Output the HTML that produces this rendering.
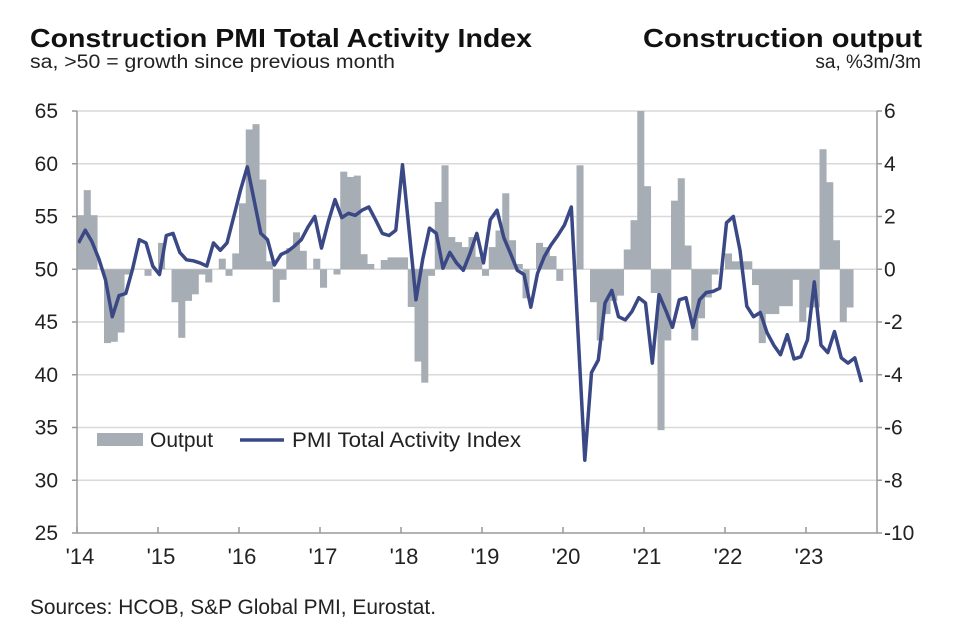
<!DOCTYPE html>
<html><head><meta charset="utf-8">
<style>
body{margin:0;background:#fff;font-family:"Liberation Sans",Arial,sans-serif;}
svg text{font-family:"Liberation Sans",Arial,sans-serif;}
</style></head>
<body>
<svg id="chart" width="956" height="632" viewBox="0 0 956 632" xmlns="http://www.w3.org/2000/svg">
<text x="30" y="47" font-size="26" font-weight="bold" fill="#111" textLength="502" lengthAdjust="spacingAndGlyphs">Construction PMI Total Activity Index</text>
<text x="30" y="68" font-size="19" fill="#222" textLength="365" lengthAdjust="spacingAndGlyphs">sa, &gt;50 = growth since previous month</text>
<text x="922" y="47" font-size="26" font-weight="bold" fill="#111" text-anchor="end" textLength="279" lengthAdjust="spacingAndGlyphs">Construction output</text>
<text x="921" y="68" font-size="19" fill="#222" text-anchor="end">sa, %3m/3m</text>
<g id="grid"></g>
<g id="bars"></g>
<g id="line"></g>
<g id="axes"></g>
<g>
<rect x="97" y="433" width="46" height="13" fill="#a7adb4"/>
<text x="150" y="447" font-size="21" fill="#222">Output</text>
<line x1="240" y1="440" x2="284" y2="440" stroke="#3a4885" stroke-width="3.5"/>
<text x="292" y="447" font-size="21" fill="#222" textLength="229" lengthAdjust="spacingAndGlyphs">PMI Total Activity Index</text>
</g>
<text x="30" y="614" font-size="21" fill="#222" textLength="406" lengthAdjust="spacingAndGlyphs">Sources: HCOB, S&amp;P Global PMI, Eurostat.</text>
</svg>
<script>
const pmi=[52.5,53.7,52.6,51,49,45.5,47.5,47.7,50,52.8,52.5,50.3,
49.5,53.2,53.4,51.6,50.9,50.8,50.6,50.3,52.5,51.8,52.5,55,
57.5,59.7,56.6,53.4,52.8,50.4,51.4,51.7,52.2,52.8,54,55,
52,54.5,56.6,54.9,55.3,55.1,55.6,55.9,54.7,53.4,53.2,53.7,
59.9,53.5,47.1,51,53.9,53.4,50.1,51.6,50.6,49.9,51.5,53.4,
50.6,54.7,55.6,53,51.5,49.9,49.5,46.4,49.6,51.2,52.3,53.2,
54.2,55.9,44,31.9,40.2,41.4,46.8,48,45.5,45.2,46,47.3,
46.8,41.1,47.6,46.1,44.5,47.1,47.3,44.5,47.1,47.8,47.9,48.2,
54.4,55,51.8,46.5,45.5,45.9,44,42.8,41.9,43.8,41.5,41.7,
43.3,48.8,42.8,42.1,44.1,41.6,41.1,41.6,39.3];
const output=[2.05,3.0,2.05,0,-2.8,-2.75,-2.4,-0.2,0,0,-0.25,0,
1.0,0,-1.25,-2.6,-1.2,-0.95,-0.2,-0.5,0,0.4,-0.25,0.6,
2.5,5.3,5.5,3.4,0.3,-1.25,-0.4,0.8,1.4,0.7,0,0.4,
-0.7,0,-0.2,3.7,3.5,3.55,0.57,0.2,0,0.35,0.45,0.45,
0.45,-1.43,-3.5,-4.3,-0.25,2.55,3.94,1.22,1.03,0.84,1.22,0.47,
-0.25,0.84,1.47,2.88,1.1,0.2,-1.1,0,1.0,0.84,0.5,-0.44,
0,0,3.94,0,-1.25,-2.7,-1.7,-1.2,-1.0,0.75,1.86,6.0,
3.15,-0.9,-6.1,-2.7,2.6,3.45,0.9,-2.7,-1.86,-1.07,-0.2,0,
0.6,0.3,0.3,0.3,-0.6,-2.8,-1.7,-1.7,-1.4,-1.4,-0.4,-2.0,
-1.45,-1.45,4.55,3.3,1.1,-2.0,-1.45];
const leftTicks=[25,30,35,40,45,50,55,60,65];
const rightTicks=[-10,-8,-6,-4,-2,0,2,4,6];
const yearLabels=["'14","'15","'16","'17","'18","'19","'20","'21","'22","'23"];

const X0=77,MW=6.75,TOP=111,BOT=533,LEFT=77,RIGHT=877;
const xm=i=>X0+i*MW;
const yL=v=>BOT-(v-25)/40*(BOT-TOP);
const yR=v=>BOT-(v+10)/16*(BOT-TOP);
const NS="http://www.w3.org/2000/svg";
function mk(tag,parent,attrs){const e=document.createElementNS(NS,tag);for(const k in attrs)e.setAttribute(k,attrs[k]);parent.appendChild(e);return e;}
const grid=document.getElementById('grid'),bars=document.getElementById('bars'),lg=document.getElementById('line'),axes=document.getElementById('axes');
leftTicks.forEach((t,k)=>{
  const y=yL(t);
  if(t>25){const g=mk('line',grid,{x1:LEFT,x2:RIGHT,y1:y,y2:y,stroke:'#d9d9d9','stroke-width':1.5});
  
  }
  const tx=mk('text',axes,{x:58,y:y+7,'font-size':21,'text-anchor':'end',fill:'#222'});tx.textContent=t;
  
  
  mk('line',axes,{x1:LEFT-5,x2:LEFT,y1:y,y2:y,stroke:'#999','stroke-width':1.5});
});
rightTicks.forEach(t=>{
  const y=yR(t);
  const tx=mk('text',axes,{x:884,y:y+7,'font-size':21,fill:'#222'});tx.textContent=t;
  
  
  mk('line',axes,{x1:RIGHT,x2:RIGHT+5,y1:y,y2:y,stroke:'#999','stroke-width':1.5});
});
output.forEach((v,i)=>{
  const y0=yR(0),y1=yR(v);
  const r=mk('rect',bars,{x:xm(i),y:Math.min(y0,y1),width:MW+0.3,height:Math.abs(y1-y0),fill:'#a7adb4'});
  
  
});
const pts=pmi.map((v,i)=>(xm(i)+1.5).toFixed(1)+','+yL(v).toFixed(1)).join(' ');
const pl=mk('polyline',lg,{points:pts,fill:'none',stroke:'#3a4885','stroke-width':3.5,'stroke-linejoin':'round'});


mk('line',axes,{x1:LEFT,x2:LEFT,y1:TOP,y2:BOT,stroke:'#999','stroke-width':1.5});
mk('line',axes,{x1:RIGHT,x2:RIGHT,y1:TOP,y2:BOT,stroke:'#999','stroke-width':1.5});
mk('line',axes,{x1:LEFT,x2:RIGHT,y1:BOT,y2:BOT,stroke:'#999','stroke-width':1.5});
yearLabels.forEach((s,k)=>{
  const x=xm(k*12);
  mk('line',axes,{x1:x,x2:x,y1:BOT-6,y2:BOT,stroke:'#999','stroke-width':1.5});
  const tx=mk('text',axes,{x:x+3,y:564,'font-size':22,'text-anchor':'middle',fill:'#222'});tx.textContent=s;
  
  
});
</script>
</body></html>
